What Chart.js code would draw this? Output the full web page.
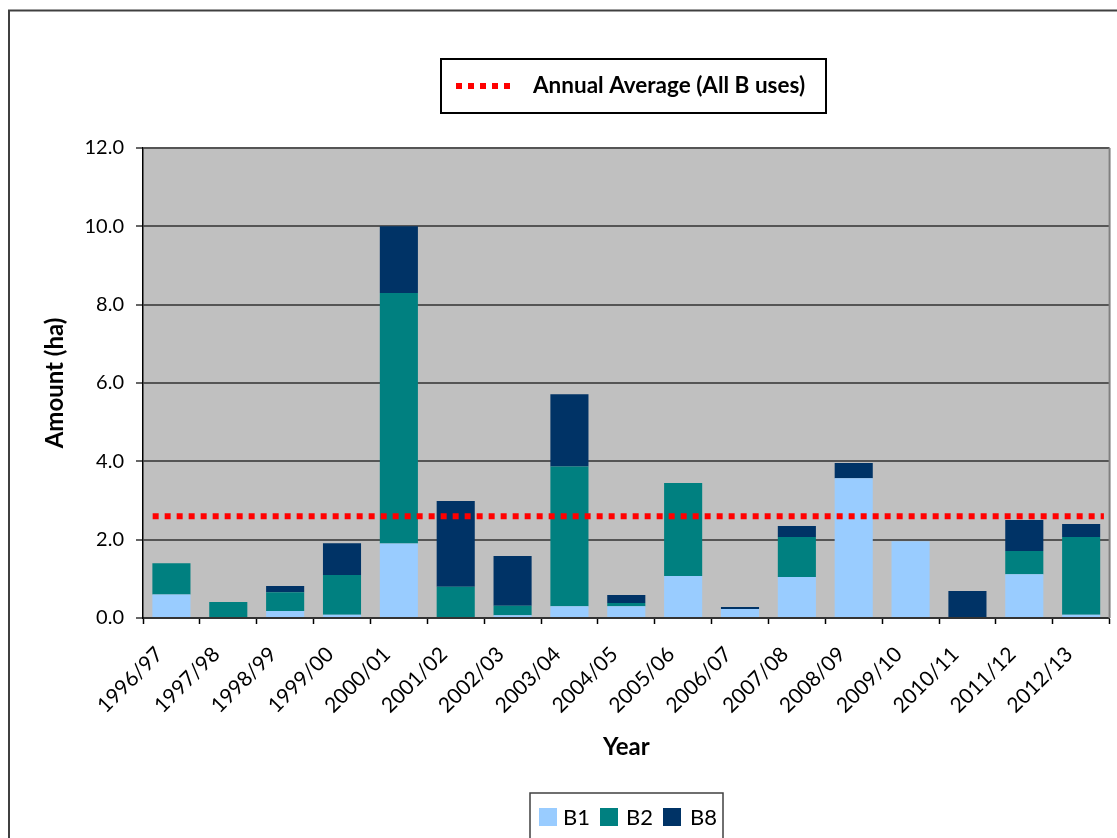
<!DOCTYPE html>
<html>
<head>
<meta charset="utf-8">
<title>Amount (ha) by Year</title>
<script src="https://cdn.jsdelivr.net/npm/chart.js@4/dist/chart.umd.min.js"></script>
<style>
  html, body { margin: 0; padding: 0; background: #ffffff; }
  #wrap { width: 1117px; height: 838px; position: relative; }
</style>
</head>
<body>
<div id="wrap"><canvas id="chart" width="1117" height="838"></canvas></div>
<script>
// Financial years
const years = ['1996/97', '1997/98', '1998/99', '1999/00', '2000/01', '2001/02', '2002/03',
  '2003/04', '2004/05', '2005/06', '2006/07', '2007/08', '2008/09', '2009/10', '2010/11',
  '2011/12', '2012/13'];

// Amount (ha) per use class
const b1 = [0.60, 0.00, 0.18, 0.08, 1.90, 0.00, 0.07, 0.30, 0.30, 1.07, 0.23, 1.05, 3.57, 1.96, 0.00, 1.12, 0.08];
const b2 = [0.80, 0.41, 0.48, 1.02, 6.40, 0.80, 0.24, 3.57, 0.08, 2.38, 0.00, 1.02, 0.00, 0.00, 0.00, 0.59, 1.99];
const b8 = [0.00, 0.00, 0.16, 0.81, 1.70, 2.19, 1.27, 1.84, 0.21, 0.00, 0.05, 0.28, 0.39, 0.00, 0.69, 0.79, 0.33];

// Annual average across all B uses, drawn as a dotted reference line
const avgX = [-0.33, 16.40];
const avgY = [2.6, 2.6];

// Y axis ticks
const yTicks = [0, 2, 4, 6, 8, 10, 12];

const colours = { B1: '#99CCFF', B2: '#008080', B8: '#003366', avg: '#FF0000' };
const FONT = 'Lato, "Open Sans", sans-serif';

// Frame, plot background and the two boxed legends
const decor = {
  id: 'decor',
  beforeDraw(chart) {
    const { ctx, chartArea: a } = chart;
    ctx.save();
    ctx.fillStyle = '#ffffff';
    ctx.fillRect(0, 0, chart.width, chart.height);
    ctx.strokeStyle = '#404040';
    ctx.lineWidth = 2;
    ctx.strokeRect(9, 10.5, 1300, 1000);
    ctx.fillStyle = '#C0C0C0';
    ctx.fillRect(a.left, a.top, a.right - a.left, a.bottom - a.top);
    ctx.restore();
  },
  afterDraw(chart) {
    const { ctx, chartArea: a } = chart;
    ctx.save();
    // plot area right edge
    ctx.strokeStyle = '#808080';
    ctx.lineWidth = 2;
    ctx.beginPath();
    ctx.moveTo(a.right, a.top);
    ctx.lineTo(a.right, a.bottom);
    ctx.stroke();

    // top legend: average line
    const avgDs = chart.data.datasets[3];
    ctx.strokeStyle = '#000000';
    ctx.lineWidth = 2;
    ctx.strokeRect(441, 59, 385, 54);
    ctx.strokeStyle = avgDs.borderColor;
    ctx.lineWidth = 6;
    ctx.setLineDash([6, 6]);
    ctx.beginPath();
    ctx.moveTo(456, 86);
    ctx.lineTo(510, 86);
    ctx.stroke();
    ctx.setLineDash([]);
    ctx.fillStyle = '#000000';
    ctx.font = 'bold 22.5px ' + FONT;
    ctx.textBaseline = 'middle';
    ctx.textAlign = 'left';
    ctx.fillText(avgDs.label, 533, 86);

    // bottom legend: use classes
    ctx.strokeStyle = '#404040';
    ctx.lineWidth = 1.5;
    ctx.strokeRect(530, 793, 193, 80);
    ctx.font = '22px ' + FONT;
    const items = [[539, 563], [600, 626], [663, 690]];
    for (let i = 0; i < 3; i++) {
      const ds = chart.data.datasets[i];
      ctx.fillStyle = ds.backgroundColor;
      ctx.fillRect(items[i][0], 808, 18, 18);
      ctx.fillStyle = '#000000';
      ctx.fillText(ds.label, items[i][1], 818);
    }
    ctx.restore();
  }
};

// one column per year: the three uses share a single stacked bar
const barCommon = {
  order: 1,
  grouped: false,
  categoryPercentage: 1.0,
  barPercentage: 0.67,
  borderWidth: 0
};

new Chart(document.getElementById('chart'), {
  type: 'bar',
  data: {
    labels: years,
    datasets: [
      { label: 'B1', data: b1, backgroundColor: colours.B1, ...barCommon },
      { label: 'B2', data: b2, backgroundColor: colours.B2, ...barCommon },
      { label: 'B8', data: b8, backgroundColor: colours.B8, ...barCommon },
      {
        type: 'line',
        label: 'Annual Average (All B uses)',
        data: avgX.map((x, i) => ({ x: x, y: avgY[i] })),
        xAxisID: 'xAvg',
        order: 0,
        borderColor: colours.avg,
        borderWidth: 6,
        borderDash: [6, 6],
        borderCapStyle: 'butt',
        pointRadius: 0,
        fill: false
      }
    ]
  },
  options: {
    responsive: false,
    animation: false,
    events: [],
    layout: { padding: { top: 148, left: 0, right: 1, bottom: 70 } },
    plugins: {
      legend: { display: false },
      tooltip: { enabled: false },
      title: { display: false }
    },
    scales: {
      x: {
        stacked: true,
        offset: true,
        afterFit(scale) { scale.height = 150; },
        grid: {
          offset: true,
          drawOnChartArea: false,
          drawTicks: true,
          tickLength: 6,
          tickColor: '#000000',
          tickWidth: 1.5
        },
        border: { display: true, color: '#333333', width: 2 },
        ticks: {
          color: '#000000',
          font: { family: FONT, size: 21 },
          minRotation: 45,
          maxRotation: 45,
          padding: 18,
          labelOffset: -12,
          autoSkip: false
        },
        title: {
          display: true,
          text: 'Year',
          color: '#000000',
          font: { family: FONT, size: 24, weight: 'bold' },
          padding: { top: 0, bottom: 6 }
        }
      },
      xAvg: {
        type: 'linear',
        display: false,
        offset: false,
        grid: { offset: false },
        min: -0.5,
        max: 16.5
      },
      y: {
        stacked: true,
        min: 0,
        max: 12,
        afterFit(scale) { scale.width = 143; },
        afterBuildTicks(scale) { scale.ticks = yTicks.map(v => ({ value: v })); },
        grid: {
          color: '#555555',
          lineWidth: 2,
          drawTicks: true,
          tickLength: 7,
          tickColor: '#333333',
          tickWidth: 1.5
        },
        border: { display: true, color: '#000000', width: 1.5 },
        ticks: {
          color: '#000000',
          font: { family: FONT, size: 20 },
          padding: 12,
          callback: v => Number(v).toFixed(1)
        },
        title: {
          display: true,
          text: 'Amount (ha)',
          color: '#000000',
          font: { family: FONT, size: 24, weight: 'bold' },
          padding: { top: 41, bottom: 0 }
        }
      }
    }
  },
  plugins: [decor]
});
</script>
</body>
</html>
